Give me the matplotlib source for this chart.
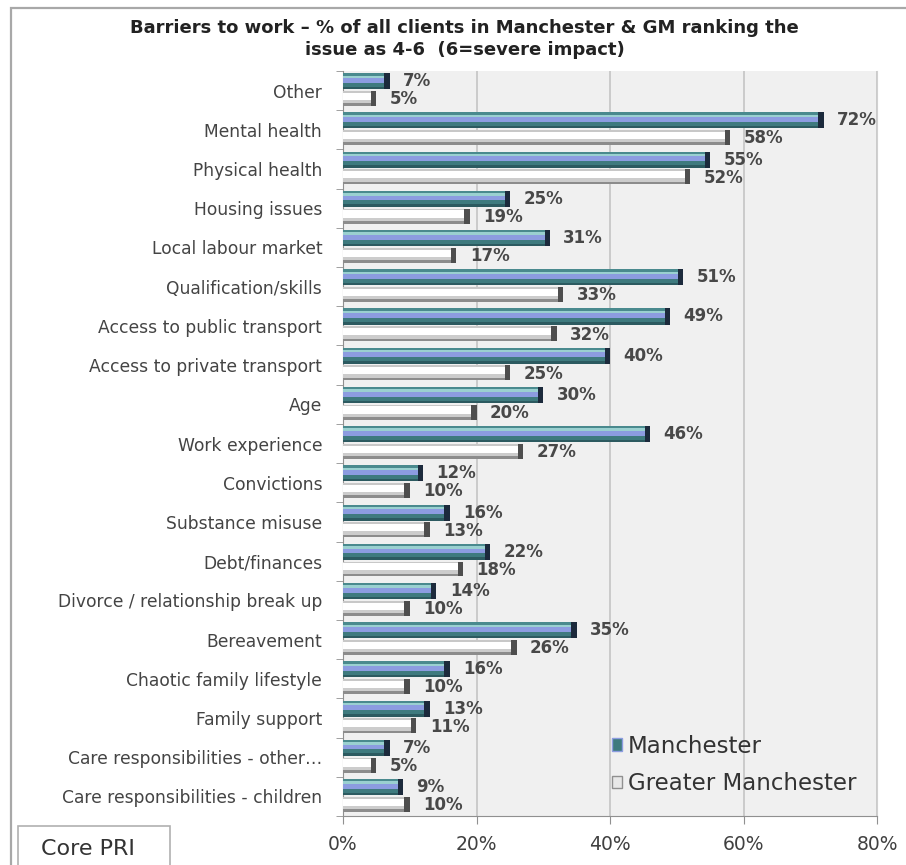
import numpy as np
import matplotlib.pyplot as plt
from matplotlib.patches import Rectangle, Patch

plt.rcParams['font.family'] = ['DejaVu Sans']

categories = ['Other', 'Mental health', 'Physical health', 'Housing issues',
              'Local labour market', 'Qualification/skills',
              'Access to public transport', 'Access to private transport',
              'Age', 'Work experience', 'Convictions', 'Substance misuse',
              'Debt/finances', 'Divorce / relationship break up',
              'Bereavement', 'Chaotic family lifestyle', 'Family support',
              'Care responsibilities - other\u2026',
              'Care responsibilities - children']
manchester = [7, 72, 55, 25, 31, 51, 49, 40, 30, 46, 12, 16, 22, 14, 35, 16, 13, 7, 9]
greater_manchester = [5, 58, 52, 19, 17, 33, 32, 25, 20, 27, 10, 13, 18, 10, 26, 10, 11, 5, 10]
x_ticks = [0, 20, 40, 60, 80]

fig = plt.figure(figsize=(9.06, 8.65), dpi=100)
ax = fig.add_axes([0.3786, 0.0566, 0.5894, 0.8613])
ax.set_facecolor('#f0f0f0')

pos = np.arange(len(categories))
man = np.array(manchester)
gm = np.array(greater_manchester)

# fake 3D look: stack thin bands inside each bar
man_layers = [(0.0, 0.15, '#4a8a8e'), (0.15, 0.3, '#9ad0d0'),
              (0.3, 0.6, '#8c9ce0'), (0.6, 0.85, '#3e7a7e'),
              (0.85, 1.0, '#2c5a60')]
gm_layers = [(0.0, 0.12, '#c8c8c8'), (0.12, 0.6, '#ffffff'),
             (0.6, 0.82, '#cccccc'), (0.82, 1.0, '#8c8c8c')]


def draw(centers, vals, h, layers, cap):
    top = centers - h / 2
    for f0, f1, c in layers:
        ax.barh(top + f0 * h, vals, height=(f1 - f0) * h, align='edge',
                color=c, lw=0, zorder=3)
    cw = 0.8
    ax.barh(top, cw, left=vals - cw, height=h, align='edge', color=cap,
            lw=0, zorder=4)


h_m, h_g = 0.41, 0.38
draw(pos - 0.24, man, h_m, man_layers, '#1c2a3c')
draw(pos + 0.2, gm, h_g, gm_layers, '#4e4e4e')

for p, v in zip(pos, man):
    ax.text(v + 2.0, p - 0.24, f'{v}%', va='center', ha='left',
            fontsize=12, fontweight='bold', color='#484848', zorder=5)
for p, v in zip(pos, gm):
    ax.text(v + 2.0, p + 0.22, f'{v}%', va='center', ha='left',
            fontsize=12, fontweight='bold', color='#484848', zorder=5)

ax.set_xlim(0, 80)
ax.set_ylim(len(categories) - 0.5, -0.5)
ax.set_xticks(x_ticks)
ax.set_xticklabels([f'{t}%' for t in x_ticks], fontsize=13.5, color='#404040')
ax.set_yticks(pos)
ax.set_yticklabels(categories, fontsize=12.3, color='#444444')
ax.tick_params(axis='y', length=0, pad=15)
ax.set_yticks(np.arange(len(categories) + 1) - 0.5, minor=True)
ax.tick_params(axis='y', which='minor', length=5, color='#909090')
ax.tick_params(axis='x', length=6, color='#909090', pad=8)
ax.grid(axis='x', color='#c4c4c4', lw=1.2, zorder=1)
ax.set_axisbelow(True)
ax.spines['top'].set_visible(False)
ax.spines['right'].set_color('#d0d0d0')
ax.spines['left'].set_color('#909090')
ax.spines['bottom'].set_color('#909090')

handles = [Patch(facecolor='#3e7a7e', edgecolor='#8c9ce0', lw=1),
           Patch(facecolor='#e8e8e8', edgecolor='#909090', lw=1)]
fig.legend(handles, ['Manchester', 'Greater Manchester'], loc='upper left',
           bbox_to_anchor=(591 / 906, 1 - 714 / 865), frameon=False,
           fontsize=16.5, handlelength=0.45, handleheight=0.45,
           handletextpad=0.25, labelspacing=0.62, labelcolor='#333333')

fig.text(0.513, 1 - 28 / 865, 'Barriers to work \u2013 % of all clients in Manchester & GM ranking the',
         ha='center', va='center', fontsize=13, fontweight='bold',
         color='#222222')
fig.text(0.513, 1 - 50 / 865, 'issue as 4-6  (6=severe impact)',
         ha='center', va='center', fontsize=13, fontweight='bold',
         color='#222222')

# outer chart frame and the "Core PRI" box
fig.patches.append(Rectangle((11 / 906, -0.1), 1.2, 1.1 - 8 / 865 + 0.0,
                             transform=fig.transFigure, fill=False,
                             ec='#a8a8a8', lw=1.6))
fig.patches.append(Rectangle((18 / 906, -0.02), 152 / 906, 0.02 + 1 - 826 / 865,
                             transform=fig.transFigure, fill=False,
                             ec='#b0b0b0', lw=1.2))
fig.text(88 / 906, 1 - 849 / 865, 'Core PRI', ha='center', va='center',
         fontsize=16, color='#333333')

fig.savefig('out.png', dpi=100)
